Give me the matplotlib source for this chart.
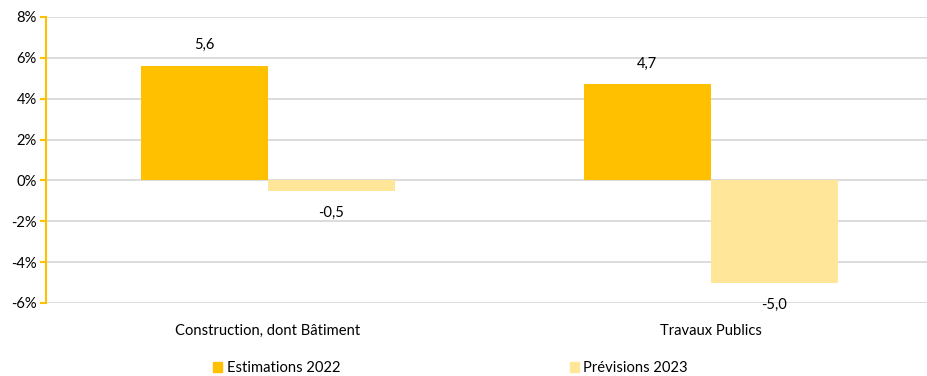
import matplotlib
matplotlib.use("Agg")
import matplotlib.pyplot as plt
from matplotlib.patches import Patch
import numpy as np

categories = ["Construction, dont Bâtiment", "Travaux Publics"]
series_names = ["Estimations 2022", "Prévisions 2023"]
estimations_2022 = [5.6, 4.7]
previsions_2023 = [-0.5, -5.0]
y_ticks = [-6, -4, -2, 0, 2, 4, 6, 8]

colors = ["#FFC000", "#FFE699"]
grid_color = "#D9D9D9"
axis_color = "#FFC000"

plt.rcParams["font.family"] = ["Lato", "DejaVu Sans"]
plt.rcParams["font.size"] = 10.6

fig = plt.figure(figsize=(9.28, 3.76), dpi=100)
ax = fig.add_axes([46.5 / 928, (376 - 303) / 376, (928 - 46.5) / 928, (303 - 17) / 376])

x = np.arange(len(categories))
w = 0.287
for i, (vals, name) in enumerate(zip([estimations_2022, previsions_2023], series_names)):
    offs = (i - 0.5) * w
    bars = ax.bar(x + offs, vals, width=w, color=colors[i], label=name, zorder=3)
    for b, v in zip(bars, vals):
        cx = b.get_x() + b.get_width() / 2
        dy = 15 if v >= 0 else -16
        ax.annotate(f"{v:.1f}".replace(".", ","), (cx, v), xytext=(0, dy),
                    textcoords="offset points", ha="center", va="center",
                    color="#000000")

ax.set_xlim(-0.5, 1.49)
ax.set_ylim(-6, 8)
ax.set_yticks(y_ticks)
ax.set_yticklabels([f"{t}%" for t in y_ticks])
ax.set_xticks(x)
ax.set_xticklabels(categories)

ax.grid(axis="y", color=grid_color, linewidth=1.3, zorder=0)
ax.set_axisbelow(True)
for s in ["top", "right", "bottom"]:
    ax.spines[s].set_visible(False)
ax.spines["left"].set_color(axis_color)
ax.spines["left"].set_linewidth(1.5)
ax.spines["left"].set_zorder(4)
ax.tick_params(axis="y", colors=axis_color, length=4, width=1.5, labelcolor="#000000", pad=3)
ax.tick_params(axis="x", length=0, pad=15, labelcolor="#000000")

handles = [Patch(color=c, label=n) for c, n in zip(colors, series_names)]
fig.legend(handles=handles, loc="center left", bbox_to_anchor=(213 / 928, (376 - 368) / 376),
           ncol=2, frameon=False, handlelength=0.62, handleheight=0.62,
           handletextpad=0.3, columnspacing=15.6, borderaxespad=0, borderpad=0)

fig.savefig("out.png", dpi=100)
